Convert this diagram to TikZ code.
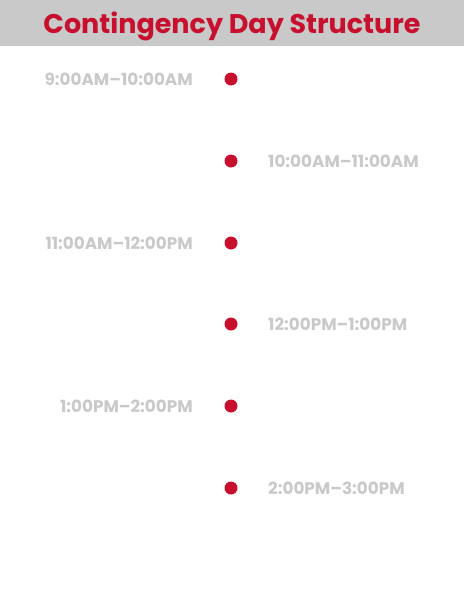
\documentclass[tikz,border=0pt]{standalone}
\usepackage{fontspec}
\setmainfont{Poppins}
\definecolor{hdrgrey}{HTML}{C8C9C8}
\definecolor{accred}{HTML}{C8102E}
\definecolor{lblgrey}{HTML}{C9C9C9}
\begin{document}
\begin{tikzpicture}[x=1pt,y=-1pt,
  dot/.style={circle,fill=accred,minimum size=13pt,inner sep=0pt},
  lbl/.style={text=lblgrey,font=\bfseries\fontsize{16.8}{20}\selectfont,inner sep=0pt},
  lleft/.style={lbl,anchor=base east},
  lright/.style={lbl,anchor=base west}]
\useasboundingbox (0,0) rectangle (464,600);
\fill[hdrgrey] (0,0) rectangle (464,46);
\node[text=accred,font=\bfseries\fontsize{27}{32}\selectfont,inner sep=0pt,anchor=base] (title) at (232,33) {Contingency Day Structure};
\node[dot] (d1) at (231,79) {};
\node[dot] (d2) at (231,161) {};
\node[dot] (d3) at (231,243) {};
\node[dot] (d4) at (231,324) {};
\node[dot] (d5) at (231,406) {};
\node[dot] (d6) at (231,488) {};
\node[lleft] (t1) at (193,85.5) {9:00AM–10:00AM};
\node[lright] (t2) at (268,167.5) {10:00AM–11:00AM};
\node[lleft] (t3) at (193,249.5) {11:00AM–12:00PM};
\node[lright] (t4) at (268,330.5) {12:00PM–1:00PM};
\node[lleft] (t5) at (193,412.5) {1:00PM–2:00PM};
\node[lright] (t6) at (268,494.5) {2:00PM–3:00PM};
\end{tikzpicture}
\end{document}
